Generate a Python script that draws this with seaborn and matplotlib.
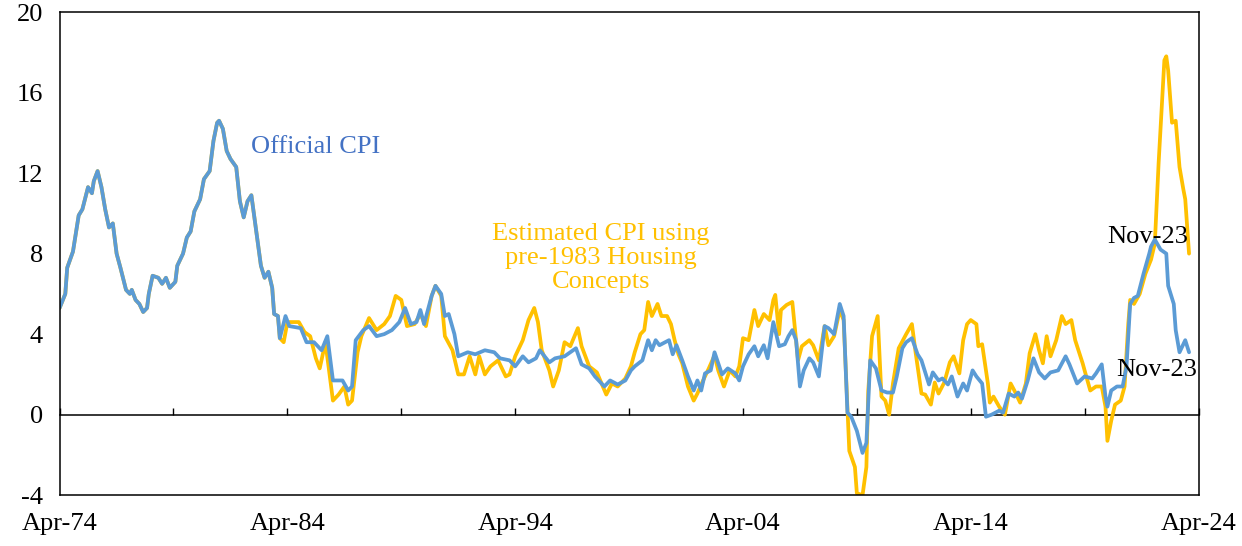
import matplotlib
matplotlib.use("Agg")
import matplotlib.pyplot as plt
import matplotlib.dates as mdates
import seaborn as sns
import pandas as pd

# months counted from Apr-74
official_months = [0, 3, 4, 7, 10, 12, 15, 17, 18, 20, 22, 24, 26, 28, 30, 32, 35, 37, 38, 40,
                   42, 44, 46, 47, 49, 52, 54, 56, 58, 61, 62, 65, 67, 69, 71, 74, 76, 79, 81, 83,
                   84, 86, 88, 90, 93, 95, 97, 99, 101, 104, 106, 108, 110, 112, 113, 115, 116, 119, 121, 127,
                   130, 134, 138, 141, 144, 149, 152, 154, 156, 160, 163, 167, 171, 175, 179, 182, 185, 188, 190, 192,
                   196, 198, 201, 203, 205, 208, 210, 215, 219, 224, 229, 232, 237, 240, 244, 247, 251, 253, 258, 261,
                   266, 272, 275, 279, 282, 287, 290, 294, 298, 301, 303, 307, 310, 312, 314, 316, 321, 323, 325, 328,
                   331, 334, 336, 338, 340, 343, 345, 349, 352, 356, 358, 360, 363, 366, 368, 371, 373, 376, 379, 382,
                   384, 386, 388, 390, 392, 395, 397, 400, 403, 405, 408, 411, 413, 415, 417, 420, 423, 425, 427, 430,
                   433, 436, 439, 441, 444, 446, 449, 452, 454, 458, 460, 463, 465, 468, 470, 473, 476, 478, 481, 483,
                   486, 488, 491, 495, 497, 500, 503, 505, 507, 510, 513, 516, 519, 522, 526, 530, 532, 536, 540, 544,
                   546, 549, 551, 552, 554, 557, 560, 562, 564, 566, 568, 571, 574, 575, 577, 580, 583, 584, 587, 588,
                   590, 593, 595]
official_cpi = [5.3, 6.0, 7.3, 8.1, 9.9, 10.2, 11.3, 11.0, 11.6, 12.1, 11.3, 10.2, 9.3, 9.5, 8.0, 7.3, 6.2, 6.0, 6.2, 5.7,
                5.5, 5.1, 5.3, 6.0, 6.9, 6.8, 6.5, 6.8, 6.3, 6.6, 7.4, 8.0, 8.8, 9.1, 10.1, 10.7, 11.7, 12.1, 13.6, 14.5,
                14.6, 14.2, 13.1, 12.7, 12.3, 10.6, 9.8, 10.6, 10.9, 8.8, 7.4, 6.8, 7.1, 6.3, 5.0, 4.9, 3.8, 4.9, 4.4, 4.3,
                3.6, 3.6, 3.2, 3.9, 1.7, 1.7, 1.2, 1.4, 3.7, 4.2, 4.4, 3.9, 4.0, 4.2, 4.6, 5.3, 4.5, 4.6, 5.2, 4.5,
                5.9, 6.4, 6.0, 4.9, 5.0, 4.0, 2.9, 3.1, 3.0, 3.2, 3.1, 2.8, 2.7, 2.4, 2.9, 2.6, 2.8, 3.2, 2.6, 2.8,
                2.9, 3.3, 2.5, 2.3, 1.9, 1.4, 1.7, 1.5, 1.7, 2.2, 2.4, 2.7, 3.7, 3.2, 3.7, 3.45, 3.7, 3.0, 3.45, 2.7,
                1.9, 1.2, 1.7, 1.2, 2.05, 2.2, 3.1, 2.0, 2.3, 2.05, 1.7, 2.4, 3.0, 3.4, 2.9, 3.45, 2.8, 4.6, 3.4, 3.5,
                3.9, 4.2, 3.7, 1.4, 2.2, 2.8, 2.6, 1.9, 4.4, 4.3, 4.0, 5.5, 4.9, 0.1, -0.1, -0.8, -1.9, -1.4, 2.7, 2.3,
                1.2, 1.1, 1.1, 1.9, 3.3, 3.6, 3.8, 3.0, 2.7, 1.5, 2.1, 1.7, 1.8, 1.5, 1.9, 0.9, 1.55, 1.2, 2.2, 1.9,
                1.55, -0.1, 0.0, 0.2, 0.1, 1.05, 0.9, 1.1, 0.8, 1.7, 2.8, 2.1, 1.8, 2.1, 2.2, 2.9, 2.5, 1.55, 1.9, 1.8,
                2.05, 2.5, 0.9, 0.4, 1.2, 1.4, 1.4, 2.4, 5.5, 5.8, 5.9, 7.0, 8.0, 8.35, 8.7, 8.2, 8.0, 6.4, 5.5, 4.2,
                3.1, 3.7, 3.1]

# estimated CPI equals the official one before Nov-83; values from there on
estimated_months = [116, 118, 120, 126, 129, 132, 135, 137, 140, 144, 147, 150, 152, 154, 157, 159, 163, 167, 171, 174,
                    177, 180, 183, 187, 190, 193, 196, 198, 201, 203, 207, 210, 213, 216, 219, 221, 224, 227, 231, 235,
                    237, 240, 244, 247, 250, 252, 254, 258, 260, 263, 266, 269, 273, 275, 279, 283, 288, 291, 294, 298,
                    301, 303, 306, 308, 310, 312, 315, 317, 320, 322, 324, 326, 328, 331, 334, 336, 339, 342, 345, 347,
                    350, 353, 356, 358, 360, 363, 366, 368, 371, 374, 376, 377, 379, 380, 383, 386, 389, 391, 395, 397,
                    400, 403, 405, 408, 411, 413, 416, 419, 420, 423, 425, 426, 428, 431, 433, 435, 437, 439, 442, 446,
                    449, 451, 454, 456, 459, 461, 463, 466, 469, 471, 474, 476, 478, 480, 483, 484, 486, 489, 490, 492,
                    495, 498, 501, 503, 506, 509, 511, 514, 516, 518, 520, 522, 525, 528, 530, 533, 535, 539, 540, 543,
                    546, 549, 551, 552, 554, 556, 559, 561, 563, 564, 566, 569, 572, 575, 577, 579, 582, 583, 584, 586,
                    588, 590, 592, 593, 595]
estimated_cpi = [3.8, 3.6, 4.6, 4.6, 4.1, 3.9, 2.8, 2.3, 3.6, 0.7, 1.0, 1.4, 0.5, 0.7, 3.1, 3.9, 4.8, 4.2, 4.5, 4.9,
                 5.9, 5.7, 4.4, 4.5, 5.0, 4.4, 5.9, 6.4, 5.9, 3.9, 3.2, 2.0, 2.0, 2.9, 2.0, 2.9, 2.0, 2.4, 2.7, 1.9,
                 2.0, 2.9, 3.7, 4.7, 5.3, 4.6, 3.2, 2.2, 1.4, 2.2, 3.6, 3.4, 4.3, 3.4, 2.4, 2.1, 1.0, 1.55, 1.4, 1.8,
                 2.4, 3.1, 4.0, 4.2, 5.6, 4.9, 5.5, 4.9, 4.9, 4.5, 3.7, 3.0, 2.55, 1.4, 0.7, 1.05, 1.7, 2.3, 2.95, 2.2,
                 1.4, 2.2, 1.9, 2.4, 3.8, 3.7, 5.2, 4.4, 5.0, 4.7, 5.7, 5.95, 4.0, 5.2, 5.45, 5.6, 2.7, 3.4, 3.7, 3.45,
                 2.7, 4.4, 3.45, 3.9, 5.2, 4.7, -1.8, -2.6, -3.9, -4.0, -2.6, 1.2, 3.9, 4.9, 0.9, 0.7, 0.0, 1.55, 3.3, 4.0,
                 4.5, 3.05, 1.05, 1.0, 0.5, 1.6, 1.05, 1.6, 2.6, 2.9, 2.05, 3.7, 4.5, 4.7, 4.5, 3.4, 3.5, 1.55, 0.6, 0.9,
                 0.4, 0.0, 1.55, 1.2, 0.6, 1.55, 3.05, 4.0, 3.2, 2.55, 3.9, 2.9, 3.7, 4.9, 4.5, 4.7, 3.7, 2.55, 2.2, 1.2,
                 1.4, 1.4, 0.4, -1.3, -0.3, 0.5, 0.7, 1.4, 4.5, 5.7, 5.5, 6.0, 7.0, 7.7, 8.5, 12.5, 17.6, 17.8, 17.1, 14.5,
                 14.6, 12.3, 11.2, 10.7, 8.0]

start = pd.Timestamp("1974-04-01")


def to_dates(months):
    return [start + pd.DateOffset(months=m) for m in months]


official = pd.DataFrame({"date": to_dates(official_months), "value": official_cpi})
shared = official[official["date"] < start + pd.DateOffset(months=estimated_months[0])]
estimated = pd.concat([shared, pd.DataFrame({"date": to_dates(estimated_months), "value": estimated_cpi})])

sns.set_theme(style="white")
plt.rcParams["font.family"] = ["Liberation Serif", "DejaVu Serif"]
plt.rcParams["axes.unicode_minus"] = False

blue = "#5B9BD5"
gold = "#FFC000"

fig = plt.figure(figsize=(12.42, 5.46), dpi=100)
ax = fig.add_axes([0.048, 0.093, 0.917, 0.885])

sns.lineplot(data=estimated, x="date", y="value", color=gold, linewidth=2.7, ax=ax)
sns.lineplot(data=official, x="date", y="value", color=blue, linewidth=2.7, ax=ax)

ax.set_xlim(pd.Timestamp("1974-04-01"), pd.Timestamp("2024-04-01"))
ax.set_ylim(-4, 20)
ax.set_yticks(range(-4, 21, 4))
ax.set_xticks(pd.date_range("1974-04-01", "2024-04-01", freq="120MS"))
ax.xaxis.set_major_formatter(mdates.DateFormatter("%b-%y"))
ax.set_xlabel("")
ax.set_ylabel("")
ax.tick_params(axis="x", length=0, pad=13, labelsize=19, colors="black")
ax.tick_params(axis="y", direction="in", length=5, width=1, pad=12, labelsize=19, colors="black")
for s in ax.spines.values():
    s.set_color("black")
    s.set_linewidth(1.1)

# zero line with 5-year tick marks
zero_axis = ax.secondary_xaxis(4 / 24)
zero_axis.set_xticks(pd.date_range("1974-04-01", "2024-04-01", freq="60MS"))
zero_axis.set_xticklabels([])
zero_axis.tick_params(axis="x", direction="in", length=5, width=1, colors="black")
zero_axis.spines["bottom"].set_linewidth(1.1)
zero_axis.spines["bottom"].set_color("black")

ax.text(pd.Timestamp("1982-09-01"), 13.3, "Official CPI", color="#4472C4", fontsize=19, va="center", ha="left")
ax.text(pd.Timestamp("1998-01-01"), 7.8, "Estimated CPI using\npre-1983 Housing\nConcepts", color=gold,
        fontsize=19, va="center", ha="center", linespacing=1.12)
ax.text(pd.Timestamp("2023-10-15"), 8.85, "Nov-23", color="black", fontsize=19, va="center", ha="right")
ax.text(pd.Timestamp("2024-03-15"), 2.2, "Nov-23", color="black", fontsize=19, va="center", ha="right")

fig.savefig("out.png", dpi=100)
